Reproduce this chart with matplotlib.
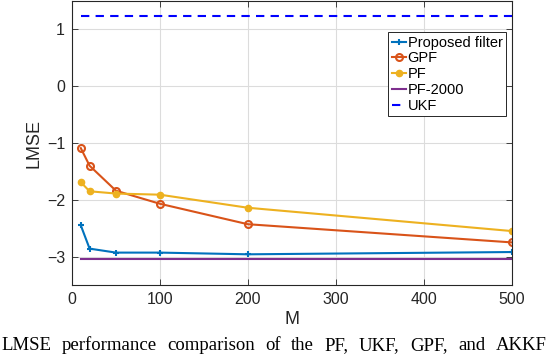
import matplotlib.pyplot as plt
import numpy as np

# data
M = [10, 20, 50, 100, 200, 500]
proposed = [-2.45, -2.86, -2.93, -2.93, -2.96, -2.92]
gpf = [-1.09, -1.40, -1.84, -2.07, -2.43, -2.75]
pf = [-1.69, -1.85, -1.89, -1.91, -2.14, -2.55]
pf2000 = [-3.05, -3.05, -3.05, -3.05, -3.05, -3.05]
ukf = [1.23, 1.23, 1.23, 1.23, 1.23, 1.23]

labels = ['Proposed filter', 'GPF', 'PF', 'PF-2000', 'UKF']
caption = 'LMSE performance comparison of the PF, UKF, GPF, and AKKF'

plt.rcParams['font.family'] = 'Liberation Sans'

fig = plt.figure(figsize=(5.48, 3.54), dpi=100)
ax = fig.add_axes([0.1314, 0.195, 0.802, 0.802])

ax.plot(M, proposed, color='#0072BD', marker='+', markersize=5, mew=1.5, lw=1.5, label=labels[0])
ax.plot(M, gpf, color='#D95319', marker='o', markersize=5, mfc='none', mew=1.5, lw=1.5, label=labels[1])
ax.plot(M, pf, color='#EDB120', marker='.', markersize=9, lw=1.5, label=labels[2])
ax.plot(M, pf2000, color='#7E2F8E', lw=1.5, label=labels[3])
ax.plot(M, ukf, color='b', ls=(0, (4, 3)), lw=1.5, label=labels[4])

ax.set_xlim(0, 500)
ax.set_ylim(-3.5, 1.5)
ax.set_xticks([0, 100, 200, 300, 400, 500])
ax.set_yticks([-3, -2, -1, 0, 1])
ax.grid(True, color='#dcdcdc', lw=0.8)
ax.set_axisbelow(True)
ax.tick_params(direction='in', top=True, right=True, labelsize=11.5,
               colors='#262626', length=4, width=0.6, pad=5)
for s in ax.spines.values():
    s.set_color('#262626')
    s.set_linewidth(0.8)

ax.set_xlabel('M', fontsize=13, color='#262626', labelpad=3)
ax.set_ylabel('LMSE', fontsize=13, color='#262626', labelpad=3)

leg = ax.legend(loc='upper left', bbox_to_anchor=(0.719, 0.891), fontsize=10.5,
                handlelength=1.0, handletextpad=0.1, borderpad=0.25,
                labelspacing=0.12, borderaxespad=0, fancybox=False,
                framealpha=1, edgecolor='#262626')
leg.get_frame().set_linewidth(0.7)

# justified caption line, as in the paper
words = caption.split()
fig.canvas.draw()
r = fig.canvas.get_renderer()
W = fig.bbox.width
items = []
for w in words:
    t = fig.text(0, 0.012, w, family='Liberation Serif', fontsize=13.5,
                 ha='left', va='baseline')
    items.append((t, t.get_window_extent(renderer=r).width))
x0, x1 = 1.0, W - 1.5
gap = (x1 - x0 - sum(wd for _, wd in items)) / (len(items) - 1)
x = x0
for t, wd in items:
    t.set_x(x / W)
    x += wd + gap

fig.savefig('out.png', dpi=100)
